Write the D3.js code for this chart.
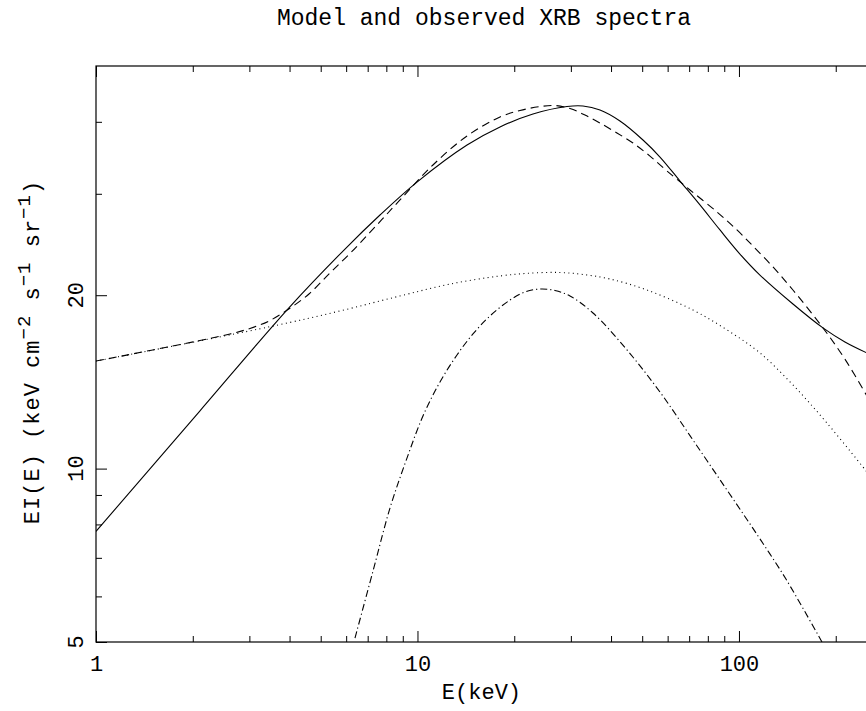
<!DOCTYPE html>
<html>
<head>
<meta charset="utf-8">
<script src="https://cdn.jsdelivr.net/npm/d3@7"></script>
<style>
  body { margin: 0; background: #fff; }
  svg text { font-family: 'Liberation Mono', monospace; fill: #000; }
</style>
</head>
<body>
<svg width="866" height="711"></svg>
<script>
// solid line (model), E in keV vs EI(E)
const modelE = [1, 2.106, 3.956, 5.907, 7.645, 9.964, 14.26, 18.06, 22.87, 29.17, 32.72, 36.96, 42.64, 50.28, 56.80, 65.54, 75.62, 87.28, 100.7, 116.2, 147.2, 182.5, 213.6, 250]
const modelEI = [7.78, 12.60, 18.94, 23.96, 27.56, 31.44, 36.46, 39.19, 41.27, 42.52, 42.61, 41.93, 40.13, 37.20, 34.75, 31.57, 28.69, 25.96, 23.58, 21.68, 19.31, 17.55, 16.59, 15.88]

// dashed line (observed)
const observedE = [1, 2.106, 2.612, 3.013, 3.452, 3.956, 4.597, 5.343, 6.211, 7.378, 8.822, 11.17, 14.26, 18.06, 20.84, 24.05, 26.77, 29.81, 33.19, 36.96, 41.73, 46.81, 52.87, 59.71, 70.40, 85.42, 98.58, 110.5, 127.6, 147.2, 182.5, 213.6, 250]
const observedEI = [15.37, 16.69, 17.13, 17.51, 18.04, 18.89, 20.10, 21.86, 23.73, 26.27, 29.27, 33.66, 37.80, 40.78, 41.85, 42.52, 42.69, 42.19, 41.10, 39.81, 38.25, 36.75, 34.88, 32.87, 30.46, 27.90, 25.96, 24.35, 22.39, 20.42, 17.55, 15.49, 13.37]

// dotted line
const dottedE = [1, 3.452, 5.741, 8.822, 12.62, 18.06, 22.87, 27.75, 32.72, 39.70, 51.74, 71.93, 91.76, 116.2, 147.2, 187.8, 250]
const dottedEI = [15.37, 17.62, 18.78, 19.94, 20.91, 21.60, 21.86, 21.90, 21.73, 21.34, 20.42, 18.85, 17.41, 15.88, 13.97, 12.00, 9.87]

// dash-dot line
const dashDotE = [6.391, 7.273, 8.212, 9.275, 10.40, 11.75, 13.27, 14.88, 16.81, 19.40, 21.60, 24.05, 26.77, 29.81, 35.15, 44.84, 56.80, 71.93, 91.76, 114.6, 140.0, 181.2]
const dashDotEI = [5.08, 6.64, 8.54, 10.43, 12.34, 14.14, 15.75, 17.13, 18.41, 19.62, 20.26, 20.50, 20.38, 19.94, 18.63, 16.07, 13.58, 11.21, 9.18, 7.64, 6.43, 5.00]

const xMajor = [1, 10, 100]
const xMinor = [2, 3, 4, 5, 6, 7, 8, 9, 20, 30, 40, 50, 60, 70, 80, 90, 200]
const yMajor = [5, 10, 20]
const yMinor = [6, 7, 8, 9, 30, 40]

const svg = d3.select('svg')
const plot = {left: 96, right: 866.9, top: 66, bottom: 642}

const x = d3.scaleLog().domain([1, 250]).range([plot.left, plot.right])
const y = d3.scaleLog().domain([5, 50]).range([plot.bottom, plot.top])

svg.append('clipPath').attr('id', 'clip')
  .append('rect')
  .attr('x', plot.left).attr('y', plot.top)
  .attr('width', plot.right - plot.left).attr('height', plot.bottom - plot.top)

// axes: ticks point inward
const fmt = d => String(d)
const addAxis = (axis, tx, ty) => {
  const g = svg.append('g')
    .attr('transform', 'translate(' + tx + ',' + ty + ')')
    .call(axis)
  g.select('.domain').remove()
  g.selectAll('line').attr('stroke', '#000').attr('stroke-width', 1)
  g.selectAll('text').attr('font-size', 22)
  g.attr('font-family', null).attr('font-size', null)
  return g
}

addAxis(d3.axisBottom(x).tickValues(xMajor).tickSize(-11).tickPadding(13).tickFormat(fmt), 0, plot.bottom)
addAxis(d3.axisBottom(x).tickValues(xMinor).tickSize(-6).tickFormat(''), 0, plot.bottom)
addAxis(d3.axisTop(x).tickValues(xMajor).tickSize(-11).tickFormat(''), 0, plot.top)
addAxis(d3.axisTop(x).tickValues(xMinor).tickSize(-6).tickFormat(''), 0, plot.top)
addAxis(d3.axisLeft(y).tickValues(yMinor).tickSize(-6).tickFormat(''), plot.left, 0)
const yAx = addAxis(d3.axisLeft(y).tickValues(yMajor).tickSize(-11).tickFormat(''), plot.left, 0)

// y tick labels, rotated like the reference
yAx.selectAll('.lbl')
  .data(yMajor)
  .enter()
  .append('text')
  .attr('class', 'lbl')
  .attr('transform', d => 'translate(' + (83 - plot.left) + ',' + y(d) + ') rotate(-90)')
  .attr('text-anchor', 'middle')
  .attr('font-size', 22)
  .text(fmt)

// frame
svg.append('rect')
  .attr('x', plot.left).attr('y', plot.top)
  .attr('width', plot.right - plot.left).attr('height', plot.bottom - plot.top)
  .attr('fill', 'none').attr('stroke', '#000').attr('stroke-width', 1.2)

const line = d3.line()
  .x(d => x(d[0]))
  .y(d => y(d[1]))
  .curve(d3.curveCatmullRom.alpha(0.5))

const series = [
  {e: modelE, v: modelEI, dash: null},
  {e: observedE, v: observedEI, dash: '8,5'},
  {e: dottedE, v: dottedEI, dash: '1,3.5'},
  {e: dashDotE, v: dashDotEI, dash: '7,3,1.2,3'}
]

svg.append('g').attr('clip-path', 'url(#clip)')
  .selectAll('path')
  .data(series)
  .enter()
  .append('path')
  .attr('d', s => line(s.e.map((e, i) => [e, s.v[i]])))
  .attr('fill', 'none')
  .attr('stroke', '#000')
  .attr('stroke-width', 1.1)
  .attr('stroke-dasharray', s => s.dash)

// title and axis labels
svg.append('text')
  .attr('x', 484).attr('y', 25)
  .attr('text-anchor', 'middle')
  .attr('font-size', 23)
  .text('Model and observed XRB spectra')

svg.append('text')
  .attr('x', (plot.left + plot.right) / 2).attr('y', 699)
  .attr('text-anchor', 'middle')
  .attr('font-size', 22)
  .text('E(keV)')

const yLabel = svg.append('text')
  .attr('transform', 'translate(39,352) rotate(-90)')
  .attr('text-anchor', 'middle')
  .attr('font-size', 22)
  .attr('letter-spacing', 1)
yLabel.append('tspan').text('EI(E) (keV cm')
yLabel.append('tspan').attr('dy', -9).attr('font-size', 19).text('\u22122')
yLabel.append('tspan').attr('dy', 9).text(' s')
yLabel.append('tspan').attr('dy', -9).attr('font-size', 19).text('\u22121')
yLabel.append('tspan').attr('dy', 9).text(' sr')
yLabel.append('tspan').attr('dy', -9).attr('font-size', 19).text('\u22121')
yLabel.append('tspan').attr('dy', 9).text(')')
</script>
</body>
</html>
